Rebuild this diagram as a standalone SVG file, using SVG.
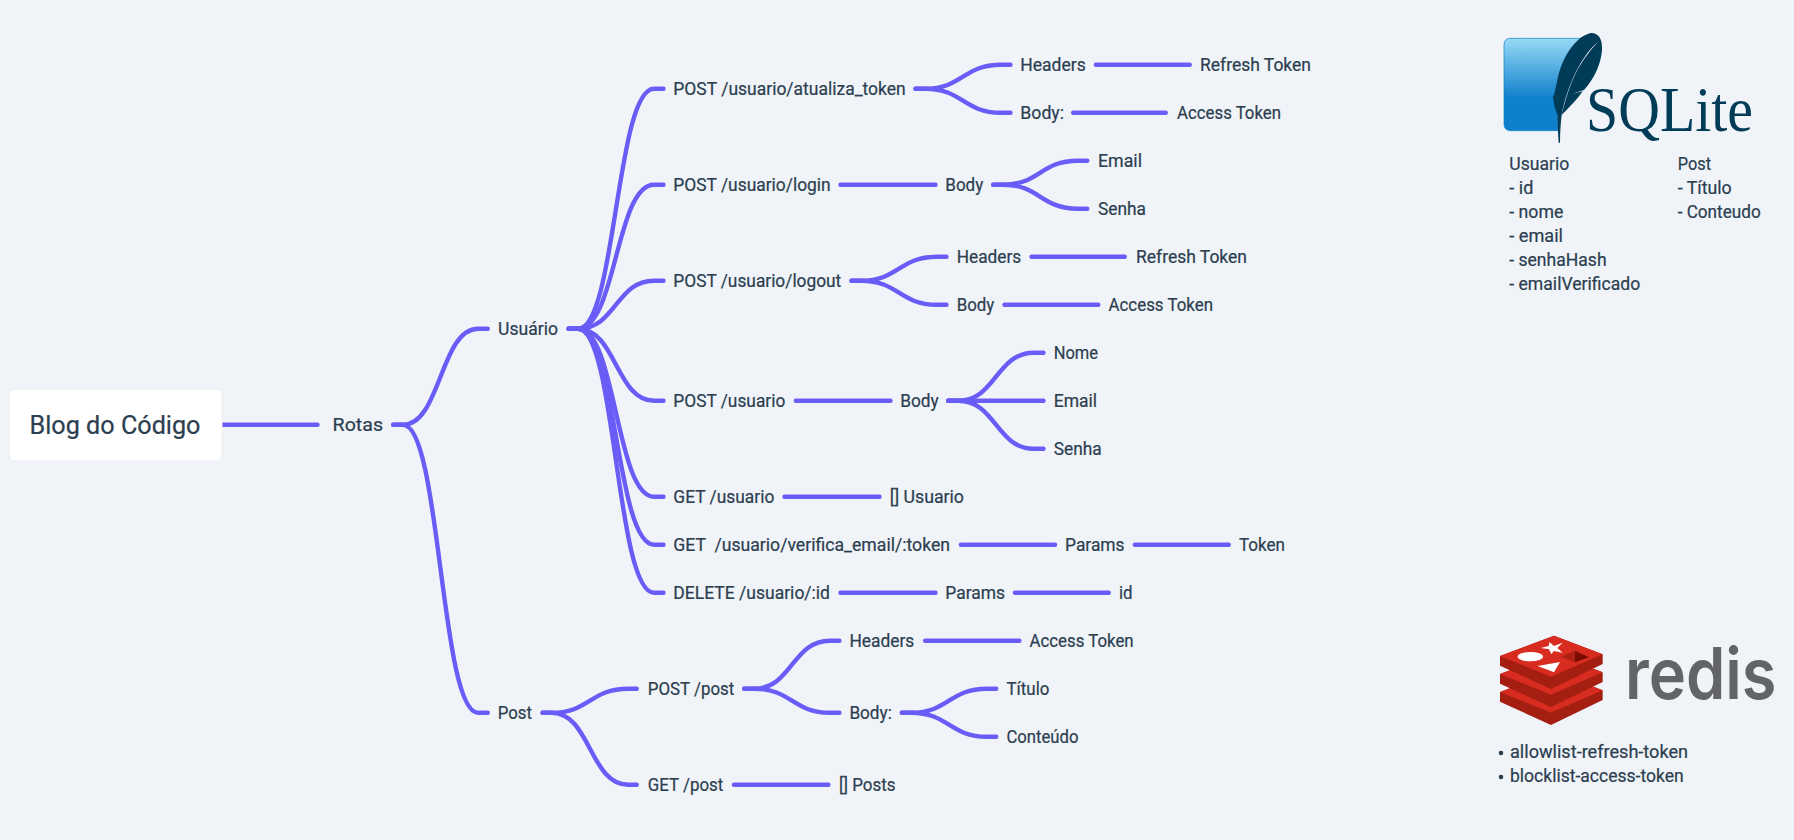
<svg xmlns="http://www.w3.org/2000/svg" width="1794" height="840" viewBox="0 0 1794 840">
<style>
text{font-family:"Roboto","Liberation Sans",sans-serif;font-size:18px;font-weight:400;fill:#2c3e50;stroke:#2c3e50;stroke-width:.22}
.root{font-size:26px}
.logo{stroke:none}
.c path{fill:none;stroke:#6a5cf6;stroke-width:4.4;stroke-linecap:round}
</style>
<defs>
<linearGradient id="sq" x1="0" y1="0" x2="0" y2="1"><stop offset="0" stop-color="#97d9f6"/><stop offset=".65" stop-color="#0f80cc"/><stop offset="1" stop-color="#0f80cc"/></linearGradient>
</defs>
<rect width="1794" height="840" fill="#f0f4f8"/>
<g id="connectors" class="c">
<path d="M222 424.7H317.5"/>
<path d="M393.2 424.7H403C440.5 424.7 440.5 328.7 478 328.7H487.8"/>
<path d="M393.2 424.7H403C440.5 424.7 440.5 712.7 478 712.7H487.8"/>
<path d="M568.7 328.7H578C616 328.7 616 88.7 654 88.7H663.5"/>
<path d="M568.7 328.7H578C616 328.7 616 184.7 654 184.7H663.5"/>
<path d="M568.7 328.7H578C616 328.7 616 280.7 654 280.7H663.5"/>
<path d="M568.7 328.7H578C616 328.7 616 400.7 654 400.7H663.5"/>
<path d="M568.7 328.7H578C616 328.7 616 496.7 654 496.7H663.5"/>
<path d="M568.7 328.7H578C616 328.7 616 544.7 654 544.7H663.5"/>
<path d="M568.7 328.7H578C616 328.7 616 592.7 654 592.7H663.5"/>
<path d="M915.5 88.7H925C963 88.7 963 64.7 1001 64.7H1010.5"/>
<path d="M915.5 88.7H925C963 88.7 963 112.7 1001 112.7H1010.5"/>
<path d="M1095.9 64.7H1189.8"/>
<path d="M1073.2 112.7H1165.8"/>
<path d="M840.5 184.7H935.5"/>
<path d="M993.2 184.7H1003C1040 184.7 1040 160.7 1078 160.7H1087.3"/>
<path d="M993.2 184.7H1003C1040 184.7 1040 208.7 1078 208.7H1087.3"/>
<path d="M851.5 280.7H861C899 280.7 899 256.7 937 256.7H946.5"/>
<path d="M851.5 280.7H861C899 280.7 899 304.7 937 304.7H946.5"/>
<path d="M1031.5 256.7H1124.8"/>
<path d="M1004.5 304.7H1098.3"/>
<path d="M795.9 400.7H890.5"/>
<path d="M948.2 400.7H958C996 400.7 996 352.7 1034 352.7H1043.5"/>
<path d="M948.2 400.7H1043.5"/>
<path d="M948.2 400.7H958C996 400.7 996 448.7 1034 448.7H1043.5"/>
<path d="M784.5 496.7H879.5"/>
<path d="M960.9 544.7H1055.1"/>
<path d="M1134.8 544.7H1228.8"/>
<path d="M840.5 592.7H935.5"/>
<path d="M1014.9 592.7H1108.8"/>
<path d="M542.6 712.7H552C590 712.7 590 688.7 628 688.7H636.8"/>
<path d="M542.6 712.7H552C590 712.7 590 784.7 628 784.7H636.8"/>
<path d="M744.2 688.7H754C792 688.7 792 640.7 830 640.7H839.4"/>
<path d="M744.2 688.7H754C792 688.7 792 712.7 830 712.7H839.4"/>
<path d="M925.1 640.7H1019.4"/>
<path d="M901.8 712.7H911C949 712.7 949 688.7 987 688.7H996.2"/>
<path d="M901.8 712.7H911C949 712.7 949 736.7 987 736.7H996.2"/>
<path d="M734 784.7H828.4"/>
</g>
<g id="root"><rect x="9" y="389" width="213" height="72" rx="6" fill="#fff" stroke="#ebeff3"/><text class="root" x="29.5" y="433.5" textLength="171" lengthAdjust="spacingAndGlyphs">Blog do Código</text></g>
<g id="rotas"><text x="332.6" y="431.2" textLength="50.4" lengthAdjust="spacingAndGlyphs">Rotas</text></g>
<g id="usuario"><text x="498" y="335.2" textLength="60" lengthAdjust="spacingAndGlyphs">Usuário</text></g>
<g id="post"><text x="497.8" y="719.2" textLength="34.2" lengthAdjust="spacingAndGlyphs">Post</text></g>
<g id="n1"><text x="673.3" y="95.2" textLength="232.4" lengthAdjust="spacingAndGlyphs">POST /usuario/atualiza_token</text></g>
<g id="n1h"><text x="1020.3" y="71.2" textLength="65.4" lengthAdjust="spacingAndGlyphs">Headers</text></g>
<g id="n1hv"><text x="1200" y="71.2" textLength="111" lengthAdjust="spacingAndGlyphs">Refresh Token</text></g>
<g id="n1b"><text x="1020.3" y="119.2" textLength="43.7" lengthAdjust="spacingAndGlyphs">Body:</text></g>
<g id="n1bv"><text x="1177" y="119.2" textLength="104" lengthAdjust="spacingAndGlyphs">Access Token</text></g>
<g id="n2"><text x="673.3" y="191.2" textLength="157.4" lengthAdjust="spacingAndGlyphs">POST /usuario/login</text></g>
<g id="n2b"><text x="945.3" y="191.2" textLength="38" lengthAdjust="spacingAndGlyphs">Body</text></g>
<g id="n2e"><text x="1098" y="167.2" textLength="44" lengthAdjust="spacingAndGlyphs">Email</text></g>
<g id="n2s"><text x="1098" y="215.2" textLength="48" lengthAdjust="spacingAndGlyphs">Senha</text></g>
<g id="n3"><text x="673.3" y="287.2" textLength="168" lengthAdjust="spacingAndGlyphs">POST /usuario/logout</text></g>
<g id="n3h"><text x="956.7" y="263.2" textLength="64.6" lengthAdjust="spacingAndGlyphs">Headers</text></g>
<g id="n3hv"><text x="1136" y="263.2" textLength="111" lengthAdjust="spacingAndGlyphs">Refresh Token</text></g>
<g id="n3b"><text x="956.7" y="311.2" textLength="37.6" lengthAdjust="spacingAndGlyphs">Body</text></g>
<g id="n3bv"><text x="1108.5" y="311.2" textLength="104.5" lengthAdjust="spacingAndGlyphs">Access Token</text></g>
<g id="n4"><text x="673.3" y="407.2" textLength="112" lengthAdjust="spacingAndGlyphs">POST /usuario</text></g>
<g id="n4b"><text x="900.3" y="407.2" textLength="38.4" lengthAdjust="spacingAndGlyphs">Body</text></g>
<g id="n4n"><text x="1053.7" y="359.2" textLength="44.3" lengthAdjust="spacingAndGlyphs">Nome</text></g>
<g id="n4e"><text x="1053.7" y="407.2" textLength="43.3" lengthAdjust="spacingAndGlyphs">Email</text></g>
<g id="n4s"><text x="1053.7" y="455.2" textLength="48" lengthAdjust="spacingAndGlyphs">Senha</text></g>
<g id="n5"><text x="673.3" y="503.2" textLength="101" lengthAdjust="spacingAndGlyphs">GET /usuario</text></g>
<g id="n5v"><text x="889.7" y="503.2" textLength="74.3" lengthAdjust="spacingAndGlyphs">[] Usuario</text></g>
<g id="n6"><text x="673.3" y="551.2" textLength="276.7" lengthAdjust="spacingAndGlyphs" xml:space="preserve">GET  /usuario/verifica_email/:token</text></g>
<g id="n6p"><text x="1065" y="551.2" textLength="59.6" lengthAdjust="spacingAndGlyphs">Params</text></g>
<g id="n6t"><text x="1239" y="551.2" textLength="46" lengthAdjust="spacingAndGlyphs">Token</text></g>
<g id="n7"><text x="673.3" y="599.2" textLength="156.7" lengthAdjust="spacingAndGlyphs">DELETE /usuario/:id</text></g>
<g id="n7p"><text x="945.3" y="599.2" textLength="59.7" lengthAdjust="spacingAndGlyphs">Params</text></g>
<g id="n7i"><text x="1119" y="599.2" textLength="13.6" lengthAdjust="spacingAndGlyphs">id</text></g>
<g id="p1"><text x="647.8" y="695.2" textLength="86.5" lengthAdjust="spacingAndGlyphs">POST /post</text></g>
<g id="p1h"><text x="849.4" y="647.2" textLength="64.9" lengthAdjust="spacingAndGlyphs">Headers</text></g>
<g id="p1hv"><text x="1029.4" y="647.2" textLength="104.3" lengthAdjust="spacingAndGlyphs">Access Token</text></g>
<g id="p1b"><text x="849.4" y="719.2" textLength="42.4" lengthAdjust="spacingAndGlyphs">Body:</text></g>
<g id="p1t"><text x="1006.5" y="695.2" textLength="42.9" lengthAdjust="spacingAndGlyphs">Título</text></g>
<g id="p1c"><text x="1006.5" y="743.2" textLength="71.9" lengthAdjust="spacingAndGlyphs">Conteúdo</text></g>
<g id="p2"><text x="647.8" y="791.2" textLength="75.5" lengthAdjust="spacingAndGlyphs">GET /post</text></g>
<g id="p2v"><text x="839" y="791.2" textLength="56.5" lengthAdjust="spacingAndGlyphs">[] Posts</text></g>
<g id="sqlite-logo">
<g transform="translate(1480 20) scale(.33333)">
<path d="M92 55H305C280 90 250 140 235 205C228 250 232 300 236 332H92Q72 332 72 312V75Q72 55 92 55Z" fill="url(#sq)" stroke="#0f80cc" stroke-width="2"/>
<path d="M332 39C356 38 368 58 366 90C363 130 345 170 322 198L312 210L276 222L308 214C295 234 268 262 245 285C242 310 240 340 240 368L236 368C234 340 233 310 232 285L224 262L219 232L224 218L232 180C245 115 285 50 332 39Z" fill="#003b57"/>
<path d="M354 66C310 100 262 190 244 290C262 215 275 185 292 150C310 118 335 85 354 66Z" fill="#f0f4f8"/>
</g>
<text class="logo" x="1586" y="130.7" textLength="167" lengthAdjust="spacingAndGlyphs" style="font-family:'Liberation Serif',serif;font-size:63px;fill:#003b57">SQLite</text>
</g>
<g id="sqlite-tables">
<text x="1509.3" y="170" textLength="60" lengthAdjust="spacingAndGlyphs">Usuario</text>
<text x="1509.3" y="194" textLength="24" lengthAdjust="spacingAndGlyphs">- id</text>
<text x="1509.3" y="218" textLength="54" lengthAdjust="spacingAndGlyphs">- nome</text>
<text x="1509.3" y="242" textLength="53.7" lengthAdjust="spacingAndGlyphs">- email</text>
<text x="1509.3" y="266" textLength="97.3" lengthAdjust="spacingAndGlyphs">- senhaHash</text>
<text x="1509.3" y="290" textLength="131" lengthAdjust="spacingAndGlyphs">- emailVerificado</text>
<text x="1677.7" y="170" textLength="33.3" lengthAdjust="spacingAndGlyphs">Post</text>
<text x="1677.7" y="194" textLength="54" lengthAdjust="spacingAndGlyphs">- Título</text>
<text x="1677.7" y="218" textLength="83" lengthAdjust="spacingAndGlyphs">- Conteudo</text>
</g>
<g id="redis-logo">
<g transform="translate(1480 620) scale(.33333)">
<path d="M60 216L222 155L368 211V240L213 315L60 245Z" fill="#a41e11"/>
<path d="M60 216L222 155L368 211L213 278Z" fill="#d82c20"/>
<path d="M60 162L222 101L368 157V186L213 261L60 191Z" fill="#a41e11"/>
<path d="M60 162L222 101L368 157L213 224Z" fill="#d82c20"/>
<path d="M60 108L222 47L368 103V132L213 207L60 137Z" fill="#a41e11"/>
<path d="M60 108L222 47L368 103L213 170Z" fill="#d82c20"/>
<path d="M208 66L222 78L248 68L232 84L248 98L222 93L214 102L207 88L182 84L206 78Z" fill="#fff"/>
<ellipse cx="151" cy="110" rx="38" ry="14" fill="#fff"/>
<path d="M173 138L240 126L222 157Z" fill="#fff"/>
<path d="M243 110L285 92V127Z" fill="#ad2115"/>
<path d="M285 92L327 112L285 127Z" fill="#7a0c00"/>
</g>
<text class="logo" x="1625" y="698.7" textLength="151.5" lengthAdjust="spacingAndGlyphs" style="font-family:'Inter',sans-serif;font-size:71px;font-weight:600;fill:#636466">redis</text>
</g>
<g id="redis-list">
<circle cx="1501" cy="753" r="2.3" fill="#2c3e50"/>
<text x="1510" y="758" textLength="178" lengthAdjust="spacingAndGlyphs">allowlist-refresh-token</text>
<circle cx="1501" cy="777" r="2.3" fill="#2c3e50"/>
<text x="1510" y="782" textLength="173.7" lengthAdjust="spacingAndGlyphs">blocklist-access-token</text>
</g>
</svg>
